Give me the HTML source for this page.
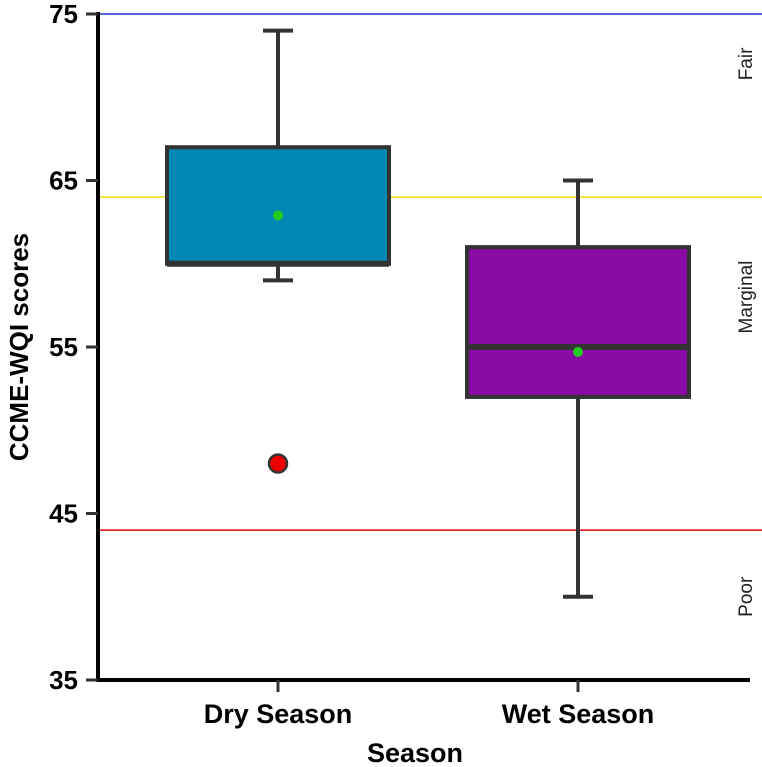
<!DOCTYPE html>
<html><head><meta charset="utf-8"><style>
body{margin:0;background:#fff;}
svg{display:block;font-family:"Liberation Sans",Arial,sans-serif;}
</style></head><body>
<svg id="chart" width="762" height="767" viewBox="0 0 762 767"></svg>
<script>
const categories=["Dry Season","Wet Season"];
const centers=[278,578];
const boxColors=["#0088b2","#8a0aa6"];
const q1=[60,52];
const q3=[67,61];
const medians=[60,55];
const whiskerLow=[59,40];
const whiskerHigh=[74,65];
const means=[62.9,54.7];
const outliers=[[48],[]];
const yTicks=[35,45,55,65,75];
const refValues=[75,64,44];
const refColors=["#2233cc","#f0e000","#dd0000"];
const zoneLabels=["Fair","Marginal","Poor"];
const zoneValues=[72,58,40];

const svg=document.getElementById('chart');
const NS='http://www.w3.org/2000/svg';
const y0=680,y1=14,vmin=35,vmax=75;
function y(v){return y0-(v-vmin)/(vmax-vmin)*(y0-y1);}
function mk(tag,attrs,name,parent){const e=document.createElementNS(NS,tag);for(const k in attrs)e.setAttribute(k,attrs[k]);


(parent||svg).appendChild(e);return e;}

refValues.forEach((v,i)=>{mk('line',{x1:98,x2:762,y1:y(v),y2:y(v),stroke:refColors[i],'stroke-width':1.5},'reference-line-'+zoneLabels[i].toLowerCase());});
zoneLabels.forEach((t,i)=>{const e=mk('text',{x:0,y:0,transform:`translate(752,${y(zoneValues[i])}) rotate(-90)`,'text-anchor':'middle','font-size':19,fill:'#222'},'zone-label-'+t.toLowerCase());e.textContent=t;});

categories.forEach((c,i)=>{
  const cx=centers[i],hw=111,cw=15;
  const g=mk('g',{},'box-'+(i?'wet':'dry'));
  mk('line',{x1:cx,x2:cx,y1:y(whiskerHigh[i]),y2:y(q3[i]),stroke:'#333','stroke-width':4},'upper-whisker',g);
  mk('line',{x1:cx,x2:cx,y1:y(q1[i]),y2:y(whiskerLow[i]),stroke:'#333','stroke-width':4},'lower-whisker',g);
  mk('line',{x1:cx-cw,x2:cx+cw,y1:y(whiskerHigh[i]),y2:y(whiskerHigh[i]),stroke:'#333','stroke-width':4},'upper-cap',g);
  mk('line',{x1:cx-cw,x2:cx+cw,y1:y(whiskerLow[i]),y2:y(whiskerLow[i]),stroke:'#333','stroke-width':4},'lower-cap',g);
  mk('rect',{x:cx-hw,y:y(q3[i]),width:2*hw,height:y(q1[i])-y(q3[i]),fill:boxColors[i],stroke:'#333','stroke-width':4},'iqr-box',g);
  mk('line',{x1:cx-hw,x2:cx+hw,y1:y(medians[i]),y2:y(medians[i]),stroke:'#333','stroke-width':6},'median-line',g);
  mk('circle',{cx:cx,cy:y(means[i]),r:5,fill:'#22cc22'},'mean-point',g);
  outliers[i].forEach(o=>mk('circle',{cx:cx,cy:y(o),r:9,fill:'#ee0000',stroke:'#333','stroke-width':2.5},'outlier-point',g));
});

mk('line',{x1:98,x2:98,y1:12,y2:682,stroke:'#000','stroke-width':4},'y-axis-line');
mk('line',{x1:96,x2:750,y1:680,y2:680,stroke:'#000','stroke-width':4},'x-axis-line');
yTicks.forEach(v=>{mk('line',{x1:86,x2:98,y1:y(v),y2:y(v),stroke:'#333','stroke-width':3},'y-tick');
 const t=mk('text',{x:78,y:y(v)+9,'text-anchor':'end','font-size':26,'font-weight':'bold'},'y-tick-label');t.textContent=v;});
categories.forEach((c,i)=>{mk('line',{x1:centers[i],x2:centers[i],y1:680,y2:692,stroke:'#333','stroke-width':3},'x-tick');
 const t=mk('text',{x:centers[i],y:723,'text-anchor':'middle','font-size':27,'font-weight':'bold'},'x-tick-label');t.textContent=c;});
const xt=mk('text',{x:415,y:762,'text-anchor':'middle','font-size':27,'font-weight':'bold'},'x-axis-title');xt.textContent='Season';
const yt=mk('text',{x:0,y:0,transform:'translate(28,347) rotate(-90)','text-anchor':'middle','font-size':26,'font-weight':'bold'},'y-axis-title');yt.textContent='CCME-WQI scores';
</script>
</body></html>
